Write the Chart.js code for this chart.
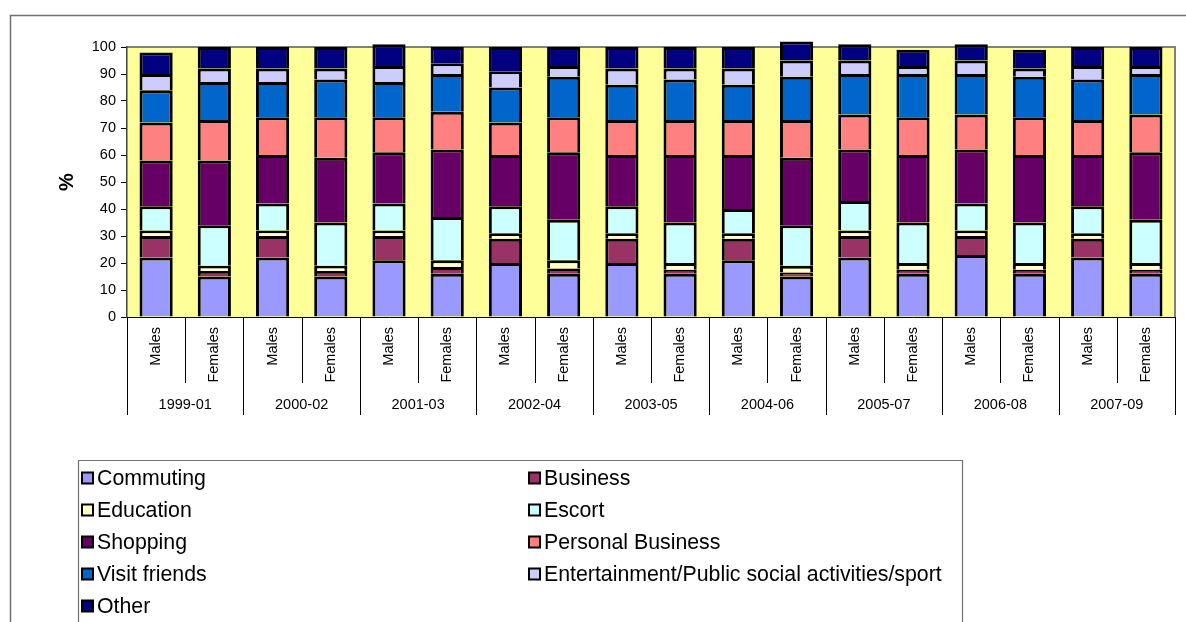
<!DOCTYPE html>
<html>
<head>
<meta charset="utf-8">
<script src="https://cdn.jsdelivr.net/npm/chart.js@4.4.1/dist/chart.umd.min.js"></script>
<style>
  html, body { margin: 0; padding: 0; background: #ffffff; }
  #wrap { position: relative; width: 1186px; height: 622px; }
  canvas { display: block; }
</style>
</head>
<body>
<div id="wrap"><canvas id="c" width="1186" height="622"></canvas></div>
<script>
// ---- data ----
const periods = ["1999-01","2000-02","2001-03","2002-04","2003-05","2004-06","2005-07","2006-08","2007-09"];
const sexes = ["Males","Females"];
const yTicks = [0,10,20,30,40,50,60,70,80,90,100];
const yAxisLabel = "%";

const commuting     = [22,15,22,15,21,16,20,16,20,16,21,15,22,16,23,16,22,16];
const business      = [8,2,8,2,9,2.5,9,2,9,1.5,8,1.5,8,1.5,7,1.5,7,1.5];
const education     = [2,2,2,2,2,2.5,2,3,2,2.5,2,2.5,2,2.5,2,2.5,2,2.5];
const escort        = [9,15,10,16,10,16,10,15,10,15,9,15,11,15,10,15,10,16];
const shopping      = [17,24,18,24,19,25,19,25,19,25,20,25,19,25,20,25,19,25];
const personalBus   = [14,15,14,15,13,14,12,13,13,13,13,14,13,14,13,14,13,14];
const visitFriends  = [12,14,13,14,13,14,13,15,13,15,13,16,15,16,15,15,15,15];
const entertainment = [6,5,5,4,6,4,6,4,6,4,6,6,5,3,5,3,5,3];
const other         = [8,8,8,8,8,6,9,7,8,8,8,7,6,6,6,7,7,7];

const seriesNames = ["Commuting","Business","Education","Escort","Shopping","Personal Business","Visit friends","Entertainment/Public social activities/sport","Other"];
const seriesValues = [commuting,business,education,escort,shopping,personalBus,visitFriends,entertainment,other];
const seriesColors = ["#9999FF","#993366","#FFFFCC","#CCFFFF","#660066","#FF8080","#0066CC","#CCCCFF","#000080"];

// build category labels from periods x sexes
const labels = [];
periods.forEach(() => sexes.forEach(s => labels.push(s)));

const FONT = "'Liberation Sans', Arial, sans-serif";

const datasets = seriesNames.map((n, i) => ({
  label: n,
  data: seriesValues[i],
  backgroundColor: seriesColors[i],
  borderColor: "#000000",
  borderWidth: 3,
  borderSkipped: "start",
  categoryPercentage: 1.0,
  barPercentage: 0.57,
  clip: false
}));

const decorPlugin = {
  id: "decor",
  beforeDraw(chart) {
    const ctx = chart.ctx;
    const a = chart.chartArea;
    ctx.save();
    ctx.fillStyle = "#ffffff";
    ctx.fillRect(0, 0, chart.width, chart.height);
    // outer frame
    ctx.strokeStyle = "#707070";
    ctx.lineWidth = 1.5;
    ctx.beginPath();
    ctx.moveTo(10.5, chart.height + 2);
    ctx.lineTo(10.5, 15.5);
    ctx.lineTo(chart.width + 2, 15.5);
    ctx.stroke();
    // plot background
    ctx.fillStyle = "#FFFF99";
    ctx.fillRect(a.left, a.top, a.right - a.left, a.bottom - a.top);
    ctx.strokeStyle = "#808080";
    ctx.lineWidth = 2;
    ctx.beginPath();
    ctx.moveTo(a.left, a.top);
    ctx.lineTo(a.right, a.top);
    ctx.lineTo(a.right, a.bottom);
    ctx.stroke();
    ctx.restore();
  },
  afterDraw(chart) {
    const ctx = chart.ctx;
    const a = chart.chartArea;
    const n = labels.length;
    const cw = (a.right - a.left) / n;
    ctx.save();
    // category separators
    ctx.strokeStyle = "#000000";
    ctx.lineWidth = 1;
    for (let i = 0; i <= n; i++) {
      const x = Math.round(a.left + i * cw) + 0.5;
      const long = (i % sexes.length) === 0;
      ctx.beginPath();
      ctx.moveTo(x, a.bottom);
      ctx.lineTo(x, long ? a.bottom + 98 : a.bottom + 66);
      ctx.stroke();
    }
    // group labels
    ctx.fillStyle = "#000000";
    ctx.font = "14.5px " + FONT;
    ctx.textAlign = "center";
    ctx.textBaseline = "middle";
    periods.forEach((p, g) => {
      const cx = a.left + (g * sexes.length + sexes.length / 2) * cw;
      ctx.fillText(p, cx, a.bottom + 88);
    });
    // y axis title
    ctx.save();
    ctx.translate(67, 182);
    ctx.rotate(-Math.PI / 2);
    ctx.font = "bold 20px " + FONT;
    ctx.fillText(yAxisLabel, 0, 0);
    ctx.restore();
    // legend box
    const lx = 78, ly = 460.5, lr = 962.5;
    ctx.strokeStyle = "#707070";
    ctx.lineWidth = 1.2;
    ctx.beginPath();
    ctx.moveTo(lx + 0.5, chart.height + 2);
    ctx.lineTo(lx + 0.5, ly);
    ctx.lineTo(lr, ly);
    ctx.lineTo(lr, chart.height + 2);
    ctx.stroke();
    // legend items (2 columns)
    ctx.font = "21.3px " + FONT;
    ctx.textAlign = "left";
    ctx.textBaseline = "middle";
    const colX = [82, 529];
    seriesNames.forEach((name, i) => {
      const col = i % 2;
      const row = Math.floor(i / 2);
      const x = colX[col];
      const y = 478 + row * 32;
      ctx.fillStyle = seriesColors[i];
      ctx.fillRect(x, y - 5.5, 11, 11);
      ctx.strokeStyle = "#000000";
      ctx.lineWidth = 2;
      ctx.strokeRect(x, y - 5.5, 11, 11);
      ctx.fillStyle = "#000000";
      ctx.fillText(name, x + 15, y + 1);
    });
    ctx.restore();
  }
};

new Chart(document.getElementById("c"), {
  type: "bar",
  data: { labels: labels, datasets: datasets },
  plugins: [decorPlugin],
  options: {
    responsive: false,
    animation: false,
    devicePixelRatio: 1,
    layout: { padding: { left: 0, top: 47, right: 11, bottom: 205 } },
    plugins: { legend: { display: false }, tooltip: { enabled: false } },
    scales: {
      x: {
        stacked: true,
        grid: { display: false, drawTicks: false },
        border: { display: true, color: "#000000", width: 1 },
        ticks: {
          autoSkip: false,
          minRotation: 90,
          maxRotation: 90,
          padding: 10,
          color: "#000000",
          font: { family: FONT, size: 14.5 }
        },
        afterFit(s) { s.height = 100; }
      },
      y: {
        stacked: true,
        min: 0,
        max: 100,
        afterBuildTicks(s) { s.ticks = yTicks.map(v => ({ value: v })); },
        grid: { drawOnChartArea: false, drawTicks: true, tickLength: 6, color: "#000000" },
        border: { display: true, color: "#404040", width: 1.5 },
        ticks: {
          padding: 5,
          color: "#000000",
          font: { family: FONT, size: 14.5 }
        },
        afterFit(s) { s.width = 127; }
      }
    }
  }
});
</script>
</body>
</html>
